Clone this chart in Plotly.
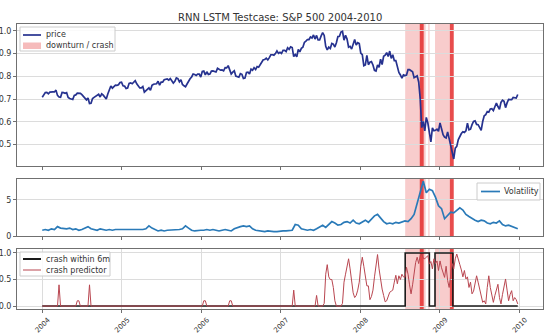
import pandas as pd
import plotly.graph_objects as go
from plotly.subplots import make_subplots

# Weekly S&P 500 closes (Fridays), scaled so the all-time high = 1.0
price_2004 = [.708, .717, .728, .729, .723, .730, .732, .731, .731, .739, .716, .709, .708,
              .729, .728, .725, .728, .707, .702, .700, .698, .716, .718, .726, .725, .725,
              .719, .711, .704, .696, .704, .680, .681, .702, .707, .712, .718, .721, .709,
              .723, .717, .708, .700, .722, .745, .757, .748, .755, .761, .760, .763, .773, .774]
price_2005 = [.758, .757, .746, .748, .769, .771, .767, .774, .781, .767, .760, .749,
              .749, .755, .730, .736, .739, .749, .738, .760, .765, .765, .767, .778, .761,
              .774, .774, .785, .788, .788, .783, .790, .780, .770, .778, .793, .790, .776, .785,
              .764, .758, .754, .766, .780, .789, .797, .810, .808, .804, .810, .810, .797]
price_2006 = [.821, .823, .806, .820, .808, .810, .823, .824, .823, .819, .835, .832, .827,
              .828, .824, .838, .837, .847, .826, .810, .818, .824, .801, .800, .796, .812,
              .809, .790, .792, .817, .818, .810, .832, .827, .838, .830, .843, .840, .854,
              .862, .873, .874, .880, .872, .882, .895, .895, .893, .900, .912, .901, .906]
price_2007 = [.901, .914, .914, .909, .926, .919, .930, .927, .887, .896, .886, .918, .908,
              .923, .928, .949, .955, .962, .962, .973, .969, .982, .964, .980, .960, .960,
              .978, .992, .980, .932, .916, .929, .923, .945, .942, .929, .948, .975, .976,
              .995, .998, .959, .981, .964, .928, .932, .920, .946, .962, .938, .948, .944]
price_2008 = [.902, .895, .847, .850, .892, .851, .862, .865, .850, .826, .823, .850, .840,
              .875, .852, .888, .893, .904, .887, .911, .879, .895, .869, .869, .842, .817,
              .806, .792, .806, .803, .805, .829, .829, .826, .820, .794, .800, .802, .775,
              .702, .574, .601, .560, .619, .595, .558, .511, .573, .560, .562, .567, .558]
price_2009 = [.595, .569, .543, .532, .528, .555, .528, .492, .470, .436, .484, .491, .521,
              .539, .548, .556, .553, .560, .594, .564, .567, .587, .601, .604, .588, .587,
              .573, .562, .601, .626, .631, .645, .642, .656, .657, .649, .666, .682, .667,
              .655, .685, .695, .690, .662, .683, .698, .697, .697, .707, .707, .704, .720]

# Bi-weekly realised volatility
vol_2004 = [0.8, 0.9, 0.8, 1.0, 0.9, 1.3, 1.1, 1.0, 1.0, 1.1, 0.9, 1.0, 0.8, 0.9, 1.1, 1.3,
            1.0, 0.9, 0.8, 1.0, 0.9, 0.8, 0.9, 0.8, 0.9, 0.9, 0.8]
vol_2005 = [0.9, 0.8, 0.9, 0.8, 0.9, 0.8, 0.9, 1.0, 1.4, 1.1, 0.9, 0.7, 0.8, 0.7, 0.8, 0.8,
            0.9, 0.8, 0.9, 1.0, 1.4, 1.1, 0.8, 0.7, 0.8, 0.8]
vol_2006 = [0.8, 0.9, 0.8, 0.9, 0.8, 0.7, 0.8, 0.9, 0.8, 0.7, 1.0, 1.2, 1.3, 1.4, 1.3, 1.4,
            1.0, 0.8, 0.7, 0.7, 0.6, 0.7, 0.6, 0.6, 0.6, 0.7]
vol_2007 = [0.7, 0.7, 0.7, 0.8, 1.6, 1.5, 1.0, 0.9, 0.8, 0.9, 0.8, 1.0, 1.2, 1.5, 1.2, 1.6,
            2.0, 1.8, 1.5, 1.6, 1.9, 2.0, 1.8, 2.2, 1.8, 1.7]
vol_2008 = [2.0, 2.2, 1.9, 2.4, 2.8, 3.0, 2.5, 2.0, 1.7, 1.8, 1.7, 1.9, 1.8, 2.0, 2.1, 2.0,
            2.4, 3.0, 4.6, 6.2, 7.6, 6.0, 6.5, 6.3, 5.4, 4.2]
vol_2009 = [3.8, 2.4, 2.8, 3.3, 3.2, 3.5, 3.9, 3.6, 3.0, 2.7, 2.4, 2.2, 2.0, 2.2, 2.1, 1.8,
            1.7, 1.9, 1.8, 2.1, 1.6, 1.4, 1.5, 1.3, 1.2, 1.0]

# Weekly output of the crash predictor
pred_2004 = [0, 0, 0, 0, 0, 0, 0, 0, 0, 0, 0, 0.4, 0, 0, 0, 0, 0, 0, 0, 0, 0, 0, 0, 0.1, 0.1, 0,
             0, 0, 0, 0, 0, 0.4, 0, 0, 0, 0, 0, 0, 0, 0, 0, 0, 0, 0, 0, 0, 0, 0, 0, 0, 0, 0, 0]
pred_2005 = [0, 0, 0, 0, 0, 0, 0, 0, 0, 0, 0, 0, 0, 0, 0, 0, 0, 0, 0, 0, 0, 0, 0, 0, 0, 0,
             0, 0, 0, 0, 0, 0, 0, 0, 0, 0, 0, 0, 0, 0, 0, 0, 0, 0, 0, 0, 0, 0, 0, 0, 0, 0]
pred_2006 = [0, 0.1, 0.1, 0, 0, 0, 0, 0, 0, 0, 0, 0, 0, 0, 0, 0, 0, 0, 0.1, 0.1, 0, 0, 0, 0, 0, 0,
             0, 0, 0, 0, 0, 0, 0, 0, 0, 0, 0, 0, 0, 0, 0, 0, 0, 0, 0, 0, 0, 0, 0, 0, 0, 0]
pred_2007 = [0, 0, 0, 0, 0, 0, 0, 0, 0.3, 0, 0, 0, 0, 0, 0, 0, 0, 0, 0, 0, 0, 0, 0, 0.2, 0, 0,
             0, 0, 0.05, 0.6, 0.78, 0.55, 0.5, 0.5, 0.35, 0.1, 0, 0, 0, 0, 0.05, 0.45, 0.6, 0.72,
             0.89, 0.7, 0.45, 0.25, 0.16, 0.2, 0.3, 0.45]
pred_2008 = [0.75, 0.92, 0.75, 0.6, 0.38, 0.38, 0.12, 0.18, 0.3, 0.55, 0.8, 0.97, 0.7, 0.48,
             0.32, 0.2, 0.08, 0.1, 0.18, 0.26, 0.28, 0.3, 0.45, 0.58, 0.42, 0.57, 0.5, 0.6, 0.55,
             0.54, 0.73, 0.6, 0.4, 0.23, 0.4, 0.67, 0.82, 0.92, 0.8, 0.95, 0.98, 0.9, 0.89, 0.92,
             0.95, 0.79, 0.84, 0.7, 0.89, 0.8, 0.85, 0.67]
pred_2009 = [0.85, 0.72, 0.6, 0.54, 0.75, 0.48, 0.35, 0.6, 0.8, 0.7, 0.89, 0.98, 0.9, 0.78,
             0.68, 0.55, 0.67, 0.51, 0.55, 0.35, 0.45, 0.23, 0.28, 0.41, 0.57, 0.45, 0.3, 0.16,
             0.07, 0.1, 0.04, 0.35, 0.57, 0.35, 0.22, 0.07, 0.2, 0.33, 0.41, 0.16, 0.04, 0.22,
             0.41, 0.51, 0.3, 0.1, 0.22, 0.29, 0.1, 0.16, 0.12, 0.04]

# Labelled crash windows ("crash within 6m" = 1 inside them)
crash_periods = [("2008-07-26", "2008-11-14"), ("2008-12-10", "2009-03-02")]
# Shaded downturn / crash spans and the sharpest drawdown spans
downturn_spans = [("2008-07-26", "2008-10-28"), ("2008-11-09", "2008-11-15"),
                  ("2008-12-10", "2009-02-16")]
crash_spans = [("2008-10-01", "2008-10-19"), ("2009-02-16", "2009-03-06")]

price = price_2004 + price_2005 + price_2006 + price_2007 + price_2008 + price_2009
vol = vol_2004 + vol_2005 + vol_2006 + vol_2007 + vol_2008 + vol_2009
pred = pred_2004 + pred_2005 + pred_2006 + pred_2007 + pred_2008 + pred_2009

weeks = pd.date_range("2004-01-02", periods=len(price), freq="7D")
fortnights = pd.date_range("2004-01-02", periods=len(vol), freq="14D")

# step line for the crash label
cx, cy = [weeks[0]], [0]
for s, e in crash_periods:
    cx += [pd.Timestamp(s), pd.Timestamp(s), pd.Timestamp(e), pd.Timestamp(e)]
    cy += [0, 1, 1, 0]
cx.append(weeks[-1])
cy.append(0)

FONT = "DejaVu Sans"
GRID = "#dcdcdc"
FRAME = "#707070"
TEXT = "#333333"
PINK = "rgba(244,170,170,0.6)"
DARK = "rgba(228,45,45,0.85)"
PRICE_C = "#26328f"
VOL_C = "#2a7ab8"
LABEL_C = "#1a1a1a"
PRED_C = "rgb(185,70,80)"

fig = make_subplots(rows=3, cols=1, shared_xaxes=True, vertical_spacing=0.03)

fig.add_trace(go.Scatter(x=weeks, y=price, mode="lines", name="price",
                         line=dict(color=PRICE_C, width=1.7)), row=1, col=1)
fig.add_trace(go.Scatter(x=fortnights, y=vol, mode="lines", name="Volatility",
                         line=dict(color=VOL_C, width=1.7)), row=2, col=1)
fig.add_trace(go.Scatter(x=cx, y=cy, mode="lines", name="crash within 6m",
                         line=dict(color=LABEL_C, width=1.6)), row=3, col=1)
fig.add_trace(go.Scatter(x=weeks, y=pred, mode="lines", name="crash predictor",
                         line=dict(color=PRED_C, width=1)), row=3, col=1)

for yref in ["y domain", "y2 domain", "y3 domain"]:
    for s, e in downturn_spans:
        fig.add_shape(type="rect", xref="x", yref=yref, x0=s, x1=e, y0=0, y1=1,
                      fillcolor=PINK, line_width=0, layer="below")
    for s, e in crash_spans:
        fig.add_shape(type="rect", xref="x", yref=yref, x0=s, x1=e, y0=0, y1=1,
                      fillcolor=DARK, line_width=0, layer="below")


# compact legend boxes (pixel layout -> paper coordinates)
W, H, L = 526.0, 336.0, 17.0


def px(x):
    return (x - L) / W


def py(y):
    return 1 - y / H


def legend_box(x0, y0, x1, y1):
    fig.add_shape(type="rect", xref="paper", yref="paper", x0=px(x0), x1=px(x1),
                  y0=py(y1), y1=py(y0), fillcolor="rgba(255,255,255,0.85)",
                  line=dict(color="#cccccc", width=1), layer="above")


def legend_line(x0, x1, y, color, width):
    fig.add_shape(type="line", xref="paper", yref="paper", x0=px(x0), x1=px(x1),
                  y0=py(y), y1=py(y), line=dict(color=color, width=width), layer="above")


def legend_text(x, y, text):
    fig.add_annotation(x=px(x), y=py(y), xref="paper", yref="paper", text=text,
                       showarrow=False, xanchor="left", yanchor="middle", borderpad=0,
                       font=dict(family=FONT, size=8, color=TEXT))


legend_box(20, 27, 115, 51)
legend_line(23, 41, 35, PRICE_C, 1.7)
fig.add_shape(type="rect", xref="paper", yref="paper", x0=px(23), x1=px(41),
              y0=py(49), y1=py(42.5), fillcolor="rgba(244,170,170,0.8)", line_width=0,
              layer="above")
legend_text(45, 35, "price")
legend_text(45, 46, "downturn / crash")

legend_box(477, 183, 540, 200)
legend_line(481, 500, 191.5, VOL_C, 1.7)
legend_text(503, 191.5, "Volatility")

legend_box(20, 252, 110, 276)
legend_line(23, 41, 259, LABEL_C, 2)
legend_line(23, 41, 270, PRED_C, 1)
legend_text(45, 259, "crash within 6m")
legend_text(45, 270, "crash predictor")

axis_common = dict(showline=True, mirror=True, linecolor=FRAME, linewidth=1,
                   ticks="outside", ticklen=3, tickcolor=FRAME,
                   tickfont=dict(family=FONT, size=8, color=TEXT), zeroline=False)

fig.update_xaxes(range=["2003-09-08", "2010-04-20"], showgrid=False, **axis_common)
fig.update_xaxes(showgrid=True, gridcolor=GRID, dtick="M12", tickformat="%Y",
                 tickangle=-45, ticklabelshift=6,
                 tickfont=dict(family=FONT, size=7, color=TEXT), row=3, col=1)

fig.update_yaxes(domain=[0.506, 0.929], range=[0.405, 1.031], dtick=0.1, tickformat=".1f",
                 showgrid=True, gridcolor=GRID, row=1, col=1, **axis_common)
fig.update_yaxes(domain=[0.2976, 0.467], range=[0, 7.9], tickvals=[0, 5],
                 showgrid=True, gridcolor=GRID, row=2, col=1, **axis_common)
fig.update_yaxes(domain=[0.0804, 0.259], range=[-0.055, 1.075], tickvals=[0, 0.5, 1.0],
                 tickformat=".1f", showgrid=True, gridcolor=GRID, row=3, col=1, **axis_common)

fig.update_layout(
    width=544, height=336,
    margin=dict(l=17, r=1, t=0, b=0, autoexpand=False),
    paper_bgcolor="white", plot_bgcolor="white",
    showlegend=False,
    title=dict(text="RNN LSTM Testcase: S&P 500 2004-2010", x=0.515, xanchor="center",
               y=0.949, yanchor="middle", font=dict(family=FONT, size=10, color=TEXT)),
)

fig.write_html("out.html")
